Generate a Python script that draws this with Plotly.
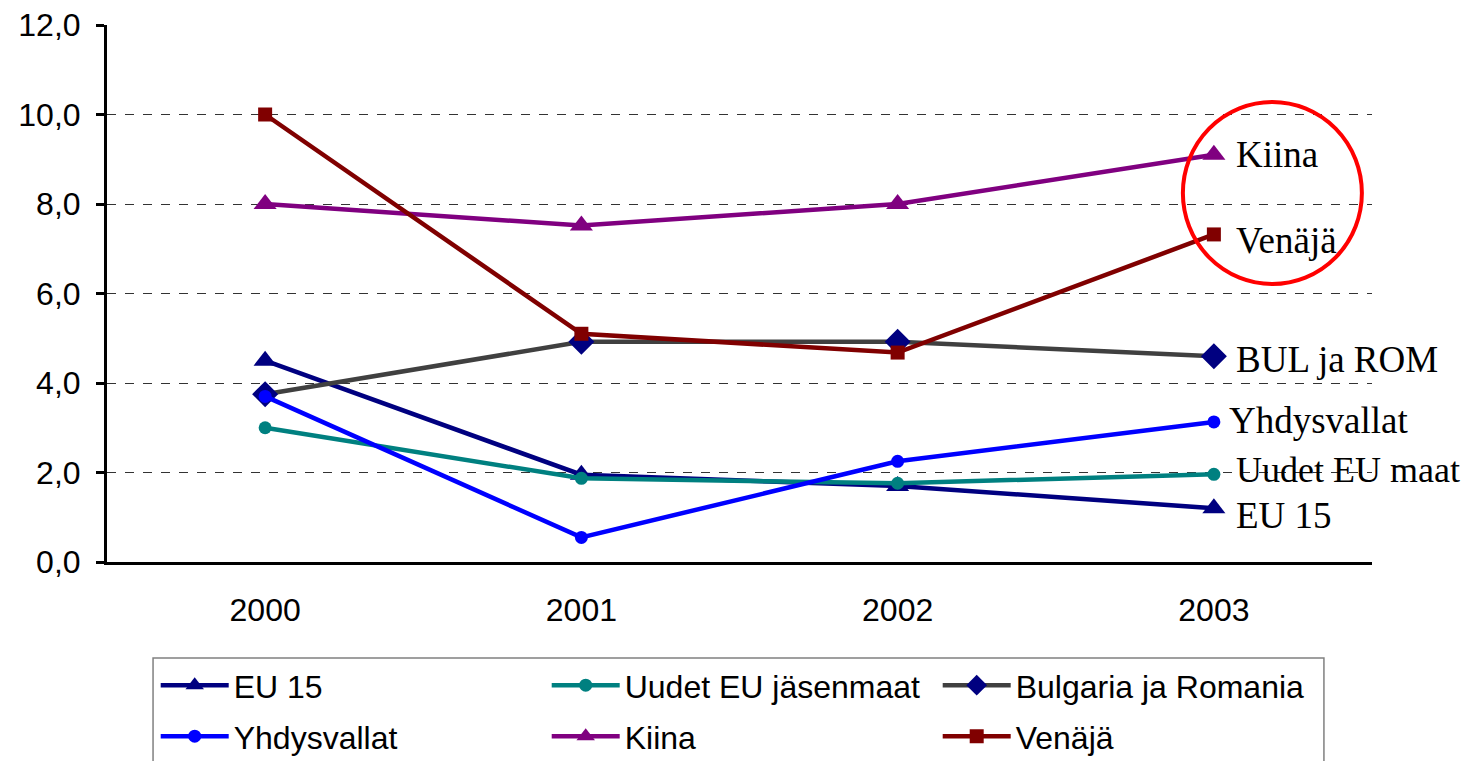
import plotly.graph_objects as go

years = ["2000", "2001", "2002", "2003"]
eu15 = [4.5, 1.95, 1.7, 1.2]
uudet = [3.0, 1.87, 1.76, 1.96]
bulrom = [3.75, 4.92, 4.92, 4.6]
usa = [3.7, 0.55, 2.25, 3.13]
kiina = [8.0, 7.52, 8.0, 9.1]
venaja = [10.0, 5.1, 4.68, 7.32]

series = [
    ("EU 15", eu15, "#000080", "#000080", "triangle-up", 20, "EU 15", 20, 7, "legend", 37),
    ("Uudet EU jäsenmaat", uudet, "#008080", "#008080", "circle", 13, "Uudet EU maat", 20, -4, "legend", 36),
    ("Bulgaria ja Romania", bulrom, "#404040", "#000080", "diamond", 20, "BUL ja ROM", 20, 3, "legend", 37),
    ("Yhdysvallat", usa, "#0000FF", "#0000FF", "circle", 13, "Yhdysvallat", 13, -1, "legend2", 37),
    ("Kiina", kiina, "#800080", "#800080", "triangle-up", 20, "Kiina", 20, 0, "legend2", 37),
    ("Venäjä", venaja, "#800000", "#800000", "square", 14, "Venäjä", 20, 6, "legend2", 37),
]

xs = list(range(len(years)))
fig = go.Figure()
annotations = []
for name, vals, lc, mc, sym, ms, label, xsh, ysh, lg, fs in series:
    fig.add_trace(go.Scatter(
        x=xs, y=vals, name=name, mode="lines+markers", legend=lg,
        line=dict(color=lc, width=4.5),
        marker=dict(symbol=sym, size=ms, color=mc, line=dict(width=0)),
    ))
    annotations.append(dict(
        x=xs[-1], y=vals[-1], xref="x", yref="y", text=label, showarrow=False,
        xanchor="left", yanchor="middle", xshift=xsh, yshift=-ysh,
        font=dict(family="Liberation Serif", size=fs, color="black"),
    ))

legend_common = dict(
    orientation="h", x=0.0385, xanchor="left", yanchor="top",
    borderwidth=0, bgcolor="rgba(0,0,0,0)",
    font=dict(family="Liberation Sans", size=32, color="black"),
    entrywidth=308, itemwidth=68, tracegroupgap=0,
)

# page body has an 8px margin, compensate in the figure margins;
# the figure is taller than the window so the legend box runs off the bottom
fig.update_layout(
    width=1471, height=790,
    margin=dict(l=99, r=107, t=17, b=236),
    plot_bgcolor="white", paper_bgcolor="white",
    separators=",.",
    font=dict(family="Liberation Sans", size=32, color="black"),
    showlegend=True,
    legend=dict(y=-0.1785, **legend_common),
    legend2=dict(y=-0.2735, **legend_common),
    annotations=annotations,
    shapes=[
        dict(type="circle", xref="x", yref="y", x0=2.902, x1=3.468, y0=6.21, y1=10.28,
             line=dict(color="#FF0000", width=4)),
        dict(type="rect", xref="paper", yref="paper", x0=0.0364, x1=0.962,
             y0=-0.1788, y1=-0.45, line=dict(color="#808080", width=1.5),
             fillcolor="rgba(0,0,0,0)", layer="below"),
    ],
)
fig.update_xaxes(
    range=[-0.5, 3.5], tickvals=xs, ticktext=years, showgrid=False, zeroline=False,
    showline=True, linecolor="black", linewidth=3, ticks="", ticklabelstandoff=18,
    tickfont=dict(family="Liberation Sans", size=32), automargin=False,
    ticklabeloverflow="allow",
)
fig.update_yaxes(
    range=[0, 12], dtick=2, tickformat=".1f", showgrid=True, gridcolor="#333333",
    griddash="dash", gridwidth=1, zeroline=False, showline=True, linecolor="black",
    linewidth=3, ticks="outside", ticklen=8, tickwidth=3, tickcolor="black",
    ticklabelstandoff=9, tickfont=dict(family="Liberation Sans", size=32),
    automargin=False, ticklabeloverflow="allow",
)
fig.write_html("out.html")
